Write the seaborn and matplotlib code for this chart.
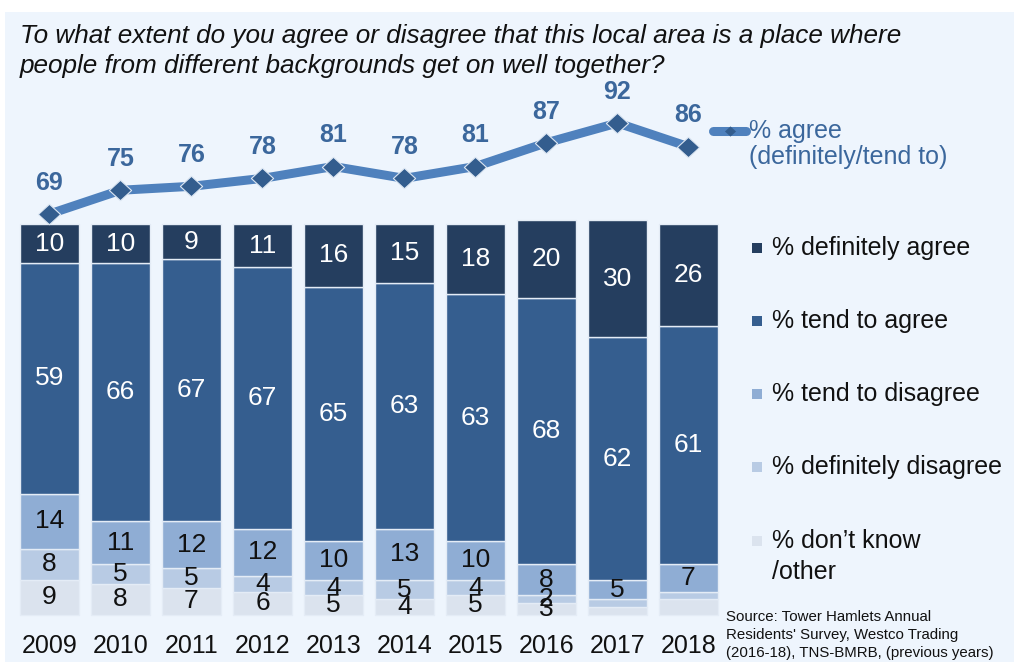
import numpy as np
import pandas as pd
import matplotlib
matplotlib.use("Agg")
import matplotlib.pyplot as plt
import seaborn as sns
from matplotlib.lines import Line2D
from matplotlib.patches import Rectangle
from matplotlib.path import Path

# ---------------- data ----------------
years = [2009, 2010, 2011, 2012, 2013, 2014, 2015, 2016, 2017, 2018]
definitely_agree = [10, 10, 9, 11, 16, 15, 18, 20, 30, 26]
tend_to_agree = [59, 66, 67, 67, 65, 63, 63, 68, 62, 61]
tend_to_disagree = [14, 11, 12, 12, 10, 13, 10, 8, 5, 7]
definitely_disagree = [8, 5, 5, 4, 4, 5, 4, 2, 2, 2]
dont_know = [9, 8, 7, 6, 5, 4, 5, 3, 2, 4]
agree_total = [69, 75, 76, 78, 81, 78, 81, 87, 92, 86]

series_names = ["% definitely agree", "% tend to agree", "% tend to disagree",
                "% definitely disagree", "% don\u2019t know\n/other"]
line_name = "% agree\n(definitely/tend to)"
title_text = ("To what extent do you agree or disagree that this local area is a place where\n"
              "people from different backgrounds get on well together?")
source_text = ("Source: Tower Hamlets Annual\nResidents' Survey, Westco Trading\n"
               "(2016-18), TNS-BMRB, (previous years)")
# segments whose value is not printed (year, series index)
unlabelled = {(2017, 3), (2017, 4), (2018, 3), (2018, 4)}

# ---------------- style ----------------
sns.set_style("white")
plt.rcParams["font.family"] = ["Liberation Sans", "DejaVu Sans"]

W, H = 1014, 662
colors = ["#253E5F", "#355E8F", "#8FADD4", "#B8CBE4", "#DBE3EE"]
label_colors = ["white", "white", "#111111", "#111111", "#111111"]
panel_bg = "#EEF5FD"
line_color = "#4F81BD"
marker_color = "#335D8E"
value_color = "#3B679C"

def fx(x):
    return x / W

def fy(y):
    return 1 - y / H

fig = plt.figure(figsize=(W / 100, H / 100), dpi=100)
fig.patch.set_facecolor("white")
fig.patches.append(Rectangle((fx(5), 0), 1 - fx(5), fy(12), transform=fig.transFigure,
                             facecolor=panel_bg, edgecolor="none", zorder=-10))

# ---------------- stacked bars ----------------
all_series = [definitely_agree, tend_to_agree, tend_to_disagree, definitely_disagree, dont_know]
rows = []
for name, vals in zip(series_names, all_series):
    for yr, v in zip(years, vals):
        rows.append({"year": yr, "value": v, "series": name})
df = pd.DataFrame(rows)

ax = fig.add_axes([fx(14), fy(615), fx(724) - fx(14), fy(224) - fy(615)])
ax.set_facecolor("none")
sns.histplot(data=df, x="year", weights="value", hue="series", hue_order=series_names,
             multiple="stack", discrete=True, shrink=0.82, palette=colors, alpha=1,
             edgecolor="#E4ECF6", linewidth=1.0, legend=False, ax=ax)
for p in ax.patches:
    p.set_clip_on(False)
ax.set_xlim(2008.5, 2018.5)
ax.set_ylim(0, 100)
ax.set_xticks(years)
ax.set_xticklabels([str(y) for y in years])
ax.tick_params(axis="x", length=0, pad=13.5, labelsize=18, labelcolor="#111111")
ax.set_yticks([])
ax.set_xlabel("")
ax.set_ylabel("")
for s in ax.spines.values():
    s.set_visible(False)

# segment labels (stacked from the bottom: don't know -> definitely agree)
for i, yr in enumerate(years):
    base = 0
    for k in [4, 3, 2, 1, 0]:
        v = all_series[k][i]
        if (yr, k) not in unlabelled:
            ax.text(yr, base + v / 2, str(v), ha="center", va="center",
                    fontsize=19, color=label_colors[k], zorder=5, clip_on=False)
        base += v

# ---------------- agree line ----------------
ax2 = fig.add_axes([fx(14), fy(224), fx(724) - fx(14), fy(100) - fy(224)])
ax2.set_facecolor("none")
diamond = Path([(0, 0.92), (1, 0), (0, -0.92), (-1, 0), (0, 0.92)],
               [Path.MOVETO, Path.LINETO, Path.LINETO, Path.LINETO, Path.CLOSEPOLY])
sns.lineplot(x=years, y=agree_total, ax=ax2, color=line_color, linewidth=6.5,
             marker=diamond, markersize=16, markerfacecolor=marker_color,
             markeredgecolor="#DCE6F2", markeredgewidth=0.8, solid_capstyle="butt",
             solid_joinstyle="round", clip_on=False)
for yr, v in zip(years, agree_total):
    ax2.annotate(str(v), (yr, v), xytext=(0, 22.5), textcoords="offset points",
                 ha="center", va="center", fontsize=18, fontweight="bold",
                 color=value_color, annotation_clip=False)
ax2.set_xlim(2008.5, 2018.5)
ax2.set_ylim(66.47, 97.81)
ax2.axis("off")

# ---------------- legends ----------------
# line legend
fig.add_artist(Line2D([fx(713), fx(746)], [fy(131), fy(131)], transform=fig.transFigure,
                      color=line_color, linewidth=6.5, solid_capstyle="round"))
fig.add_artist(Line2D([fx(729.5)], [fy(131)], transform=fig.transFigure, marker=diamond,
                      markersize=8, markerfacecolor=marker_color, markeredgecolor="none",
                      linestyle="none"))
fig.text(fx(749), fy(131), line_name.split("\n")[0], ha="left", va="center",
         fontsize=18, color=value_color)
fig.text(fx(749), fy(157), line_name.split("\n")[1], ha="left", va="center",
         fontsize=18, color=value_color)

# bar legend
leg_y = [248, 321, 394, 467, 541]
for name, c, yy in zip(series_names, colors, leg_y):
    fig.patches.append(Rectangle((fx(752), fy(yy + 5)), fx(10), 10 / H,
                                 transform=fig.transFigure, facecolor=c,
                                 edgecolor="none"))
    lines = name.split("\n")
    for j, ln in enumerate(lines):
        fig.text(fx(772), fy(yy + 31 * j), ln, ha="left", va="center",
                 fontsize=18, color="#111111")

# ---------------- title and source ----------------
fig.text(fx(20), fy(36), title_text.split("\n")[0], ha="left", va="center",
         fontsize=18.8, style="italic", color="#111111")
fig.text(fx(20), fy(66), title_text.split("\n")[1], ha="left", va="center",
         fontsize=18.8, style="italic", color="#111111")
for j, ln in enumerate(source_text.split("\n")):
    fig.text(fx(726), fy(617 + 18 * j), ln, ha="left", va="center",
             fontsize=10.8, color="#111111")

fig.savefig("out.png", dpi=100, facecolor=fig.get_facecolor())
